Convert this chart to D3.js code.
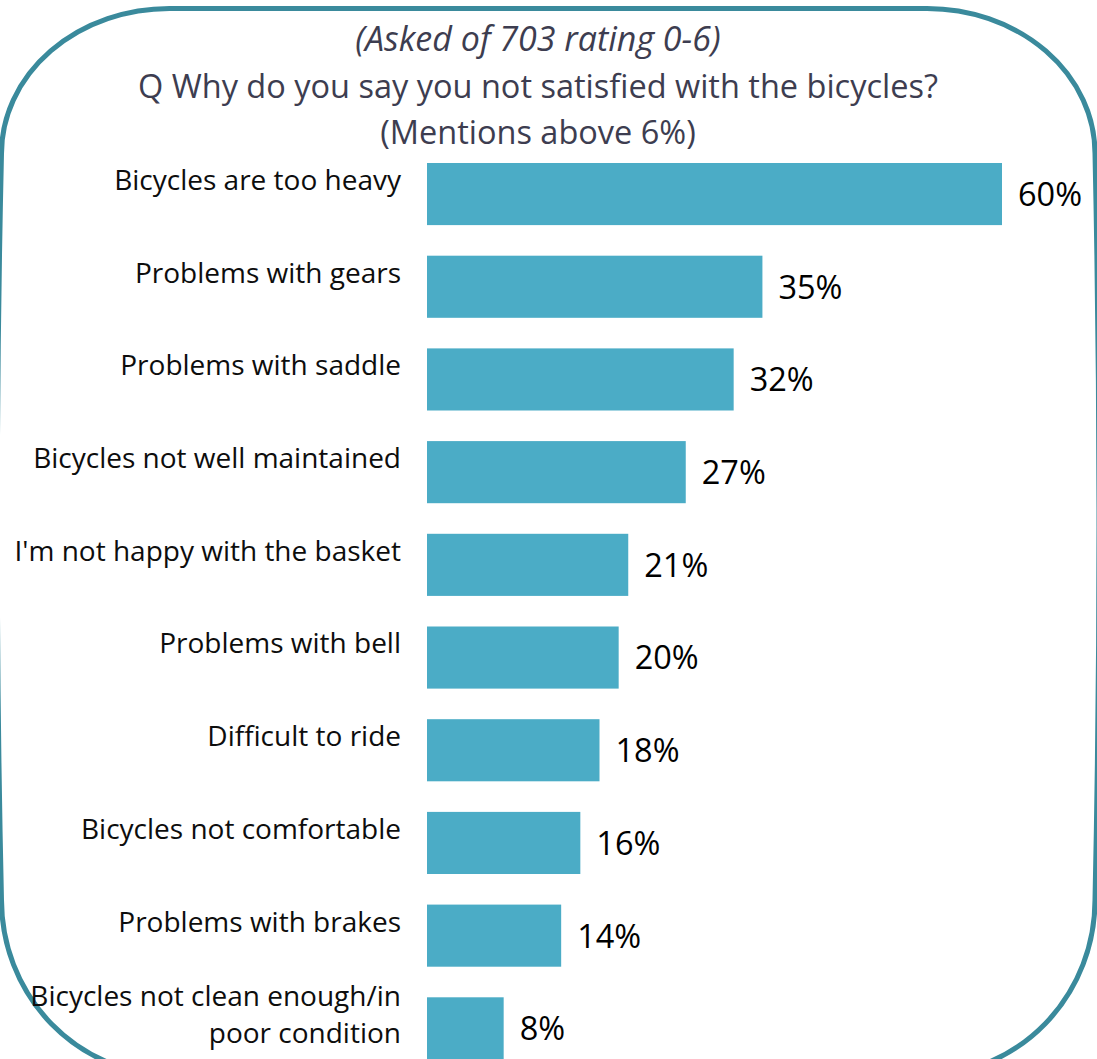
<!DOCTYPE html>
<html>
<head>
<meta charset="utf-8">
<script src="https://cdn.jsdelivr.net/npm/d3@7"></script>
<style>
  html, body { margin: 0; padding: 0; background: #ffffff; }
  svg { display: block; }
</style>
</head>
<body>
<svg id="chart" width="1097" height="1059"></svg>
<script>
const categories = [
  "Bicycles are too heavy",
  "Problems with gears",
  "Problems with saddle",
  "Bicycles not well maintained",
  "I'm not happy with the basket",
  "Problems with bell",
  "Difficult to ride",
  "Bicycles not comfortable",
  "Problems with brakes",
  "Bicycles not clean enough/in\npoor condition"
];
const values = [60, 35, 32, 27, 21, 20, 18, 16, 14, 8];
const titleLines = [
  { text: "(Asked of 703 rating 0-6)", italic: true },
  { text: "Q Why do you say you not satisfied with the bicycles?", italic: false },
  { text: "(Mentions above 6%)", italic: false }
];

const W = 1097, H = 1059;
const svg = d3.select("#chart");
const font = "'Open Sans', 'Noto Sans', sans-serif";

// Rounded frame (decorative)
const L = 1.5, T = 8.5, R = 1095, B = 1075;
const rxT = 168, ryT = 145, rxB = 170, ryB = 175;
const midY = (B - ryB + T + ryT) / 2;
svg.append("path")
  .attr("d",
    `M${L + rxT},${T} L${R - rxT},${T} A${rxT},${ryT} 0 0 1 ${R},${T + ryT} ` +
    `Q${R + 8},${midY} ${R},${B - ryB} A${rxB},${ryB} 0 0 1 ${R - rxB},${B} L${L + rxB},${B} ` +
    `A${rxB},${ryB} 0 0 1 ${L},${B - ryB} Q-7,${midY} ${L},${T + ryT} ` +
    `A${rxT},${ryT} 0 0 1 ${L + rxT},${T} Z`)
  .attr("fill", "none")
  .attr("stroke", "#3a8a9c")
  .attr("stroke-width", 5);

// Title
const title = svg.append("g");
titleLines.forEach((t, i) => {
  title.append("text")
    .attr("x", 538)
    .attr("y", 51 + i * 46.5)
    .attr("text-anchor", "middle")
    .attr("font-family", font)
    .attr("font-size", t.italic ? 34 : 32.5)
    .attr("font-style", t.italic ? "italic" : "normal")
    .attr("fill", "#3d3d50")
    .text(t.text);
});

// Scales
const x = d3.scaleLinear().domain([0, 60]).range([427, 1002]);
const y = d3.scaleBand()
  .domain(categories)
  .range([147.7, 1074.7])
  .paddingInner(0.33)
  .paddingOuter(0.165);

// Bars
svg.append("g").selectAll("rect")
  .data(categories)
  .join("rect")
  .attr("x", x(0))
  .attr("y", d => y(d))
  .attr("width", (d, i) => x(values[i]) - x(0))
  .attr("height", y.bandwidth())
  .attr("fill", "#4bacc6");

// Value labels
svg.append("g").selectAll("text")
  .data(categories)
  .join("text")
  .attr("x", (d, i) => x(values[i]) + 16)
  .attr("y", d => y(d) + 43)
  .attr("font-family", font)
  .attr("font-size", 32.5)
  .attr("fill", "#000000")
  .text((d, i) => values[i] + "%");

// Category labels
const lineH = 37;
const catG = svg.append("g");
categories.forEach(c => {
  const lines = c.split("\n");
  const center = y(c) + 17;
  const t = catG.append("text")
    .attr("text-anchor", "end")
    .attr("font-family", font)
    .attr("font-size", 28)
    .attr("fill", "#0d0d0d");
  lines.forEach((ln, k) => {
    t.append("tspan")
      .attr("x", 401)
      .attr("y", center + 10 + (k - (lines.length - 1) / 2) * lineH)
      .text(ln);
  });
});
</script>
</body>
</html>
